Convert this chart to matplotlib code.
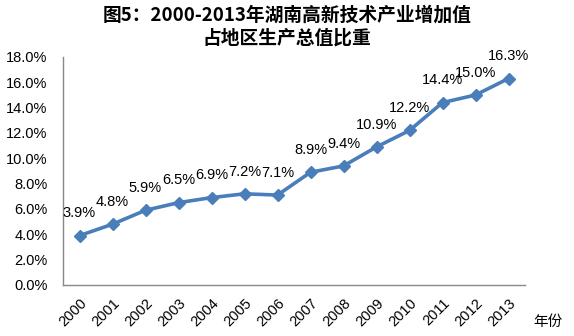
import matplotlib
matplotlib.use("Agg")
import matplotlib.pyplot as plt
from matplotlib.ticker import FuncFormatter, MultipleLocator

plt.rcParams['font.family'] = ['Liberation Sans', 'Noto Sans CJK SC', 'DejaVu Sans']

years = ['2000', '2001', '2002', '2003', '2004', '2005', '2006',
         '2007', '2008', '2009', '2010', '2011', '2012', '2013']
values = [3.9, 4.8, 5.9, 6.5, 6.9, 7.2, 7.1, 8.9, 9.4, 10.9, 12.2, 14.4, 15.0, 16.3]
title = '图5：2000-2013年湖南高新技术产业增加值\n占地区生产总值比重'
xlabel = '年份'

fig = plt.figure(figsize=(5.74, 3.36), dpi=100)
ax = fig.add_axes([63/574, 1-285/336, (525-63)/574, (285-57)/336])

color = '#4A7EBB'
x = list(range(len(years)))
ax.plot(x, values, color=color, lw=2.6, marker='D', ms=6.5, mec=color, mfc=color)
for xi, v in zip(x, values):
    ax.annotate(f'{v:.1f}%', (xi, v), xytext=(0, 11), textcoords='offset points',
                ha='center', va='bottom', fontsize=10.5, color='black')

ax.set_xlim(-0.5, len(years) - 0.5)
ax.set_ylim(0, 18)
ax.yaxis.set_major_locator(MultipleLocator(2))
ax.yaxis.set_major_formatter(FuncFormatter(lambda v, p: f'{v:.1f}%'))
ax.set_xticks(x)
ax.set_xticklabels(years, rotation=45, ha='right', rotation_mode='anchor')
ax.tick_params(axis='both', labelsize=10.5, length=0)
ax.tick_params(axis='y', pad=11)
ax.tick_params(axis='x', pad=8)
for s in ['top', 'right']:
    ax.spines[s].set_visible(False)
for s in ['left', 'bottom']:
    ax.spines[s].set_color('#888888')
    ax.spines[s].set_linewidth(1)

fig.text(0.5, 1-6/336, title, ha='center', va='top', fontsize=13.5, fontweight='bold',
         family=['Noto Sans CJK SC', 'DejaVu Sans'], linespacing=1.25)
fig.text(548/574, 1-322/336, xlabel, ha='center', va='center', fontsize=10.5,
         family=['Noto Sans CJK SC', 'DejaVu Sans'])

fig.savefig('out.png', dpi=100)
